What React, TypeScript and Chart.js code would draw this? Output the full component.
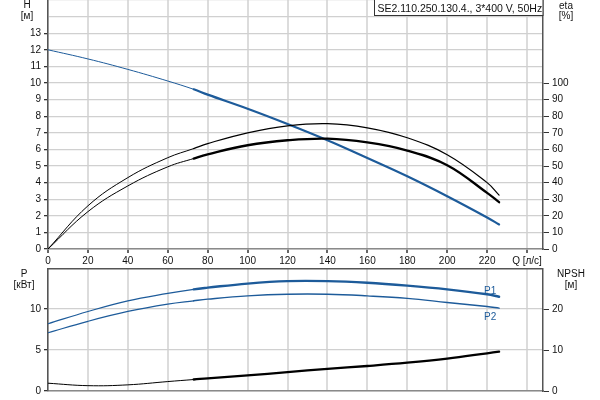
import React, { useEffect, useRef } from 'react';
import { Chart, registerables } from 'chart.js';

Chart.register(...registerables);

// ---- data ----
const Q = [0, 20, 40, 60, 73, 80, 100, 120, 140, 160, 180, 200, 220, 226];
const H = [12.0, 11.45, 10.82, 10.12, 9.62, 9.3, 8.45, 7.53, 6.55, 5.48, 4.38, 3.18, 1.9, 1.48];
const ETA_UPPER = [0, 26, 43, 55, 60.5, 63.5, 70, 74.2, 75.5, 73, 67, 56.8, 40, 32.5];
const ETA_LOWER = [0, 22.5, 38, 49.5, 54.5, 57, 62.5, 65.5, 66.5, 64.2, 59.3, 50.5, 33.8, 28.2];
const P1 = [8.2, 9.7, 11.0, 11.9, 12.4, 12.6, 13.1, 13.4, 13.4, 13.2, 12.85, 12.4, 11.8, 11.5];
const P2 = [7.1, 8.5, 9.7, 10.6, 11.0, 11.2, 11.6, 11.8, 11.8, 11.6, 11.3, 10.8, 10.3, 10.1];
const NPSH = [1.9, 1.3, 1.5, 2.3, 2.8, 3.1, 3.8, 4.6, 5.4, 6.1, 6.9, 7.9, 9.2, 9.6];

const Q_TICKS = [0, 20, 40, 60, 80, 100, 120, 140, 160, 180, 200, 220, 240];
const H_TICKS = [0, 1, 2, 3, 4, 5, 6, 7, 8, 9, 10, 11, 12, 13, 14, 15];
const H_LABEL_MAX = 13;
const ETA_TICKS = [0, 10, 20, 30, 40, 50, 60, 70, 80, 90, 100];
const P_TICKS = [0, 5, 10];
const NPSH_TICKS = [0, 10, 20];

const Q_MAX = 248;
const H_MAX = 15;
const ETA_MAX = 150;
const P_MAX = 15;
const NPSH_MAX = 30;
const DUTY_START = 73;
const Q_TITLE = 'Q [л/с]';
const TITLE = 'SE2.110.250.130.4., 3*400 V, 50Hz';

const FONT = "'Liberation Sans', Arial, sans-serif";
const BLUE = '#1d5b9a';
const TEXT = '#111';
const GRID_V = '#dcdcdc';
const GRID_H = '#d0d0d0';
const AXIS = '#555';

const pts = (ys: number[]) => Q.map((q, i) => ({ x: q, y: ys[i] }));
const seg = (thin: number, thick: number) => ({
  borderWidth: (ctx: any) => (ctx.p0.parsed.x >= DUTY_START ? thick : thin),
});

const fix = (w?: number, h?: number) => (scale: any) => {
  if (w !== undefined) scale.width = w;
  if (h !== undefined) scale.height = h;
  scale.paddingLeft = 0;
  scale.paddingRight = 0;
  scale.paddingTop = 0;
  scale.paddingBottom = 0;
};
const setTicks = (vals: number[]) => (scale: any) => {
  scale.ticks = vals.map((v) => ({ value: v }));
};

const LEFT_W = 48;
const RIGHT_W = 57;

function line(data: number[], color: string, axis: string, thin: number, thick: number) {
  return {
    data: pts(data),
    borderColor: color,
    backgroundColor: color,
    yAxisID: axis,
    pointRadius: 0,
    borderWidth: thin,
    tension: 0.4,
    segment: seg(thin, thick),
    borderCapStyle: 'round' as const,
  };
}

const topDeco = {
  id: 'topDeco',
  afterDraw(chart: any) {
    const c = chart.ctx;
    const { right } = chart.chartArea;
    c.save();
    c.font = `10px ${FONT}`;
    c.fillStyle = TEXT;
    c.textAlign = 'center';
    c.textBaseline = 'alphabetic';
    c.fillText('H', 27, 8);
    c.fillText('[м]', 27, 19);
    c.fillText('eta', 566, 8.5);
    c.fillText('[%]', 566, 19);
    c.fillStyle = '#fff';
    c.fillRect(374.5, -0.5, right - 374.5, 16);
    c.strokeStyle = '#333';
    c.lineWidth = 1;
    c.strokeRect(374.5, -0.5, right - 374.5, 16);
    c.fillStyle = TEXT;
    c.textAlign = 'left';
    c.font = `10.5px ${FONT}`;
    c.fillText(TITLE, 377.5, 12);
    c.restore();
  },
};

const bottomDeco = {
  id: 'bottomDeco',
  afterDraw(chart: any) {
    const c = chart.ctx;
    const { left, right, top } = chart.chartArea;
    const xs = chart.scales.x;
    const ys = chart.scales.p;
    c.save();
    c.strokeStyle = AXIS;
    c.lineWidth = 1.5;
    c.beginPath();
    c.moveTo(left, top + 0.75);
    c.lineTo(right, top + 0.75);
    c.stroke();
    c.font = `10px ${FONT}`;
    c.fillStyle = TEXT;
    c.textAlign = 'center';
    c.textBaseline = 'alphabetic';
    c.fillText('P', 24, 9);
    c.fillText('[кВт]', 24, 20);
    c.fillText('NPSH', 571, 9);
    c.fillText('[м]', 571, 20);
    const xe = xs.getPixelForValue(Q[Q.length - 1]) - 9;
    c.fillStyle = BLUE;
    c.fillText('P1', xe, ys.getPixelForValue(P1[P1.length - 1]) - 3);
    c.fillText('P2', xe, ys.getPixelForValue(P2[P2.length - 1]) + 11.5);
    c.restore();
  },
};

export default function App() {
  const topRef = useRef<HTMLCanvasElement | null>(null);
  const botRef = useRef<HTMLCanvasElement | null>(null);

  useEffect(() => {
    Chart.defaults.font.family = FONT;
    Chart.defaults.font.size = 10;
    Chart.defaults.color = TEXT;

    const tickFont = { family: FONT, size: 10 };

    const top = new Chart(topRef.current as HTMLCanvasElement, {
      type: 'line',
      data: {
        datasets: [
          line(ETA_UPPER, '#000', 'eta', 1, 1.2),
          line(ETA_LOWER, '#000', 'eta', 1, 2.3),
          line(H, BLUE, 'y', 1, 2.2),
        ] as any,
      },
      options: {
        animation: false,
        responsive: false,
        maintainAspectRatio: false,
        layout: { padding: 0 },
        plugins: { legend: { display: false }, tooltip: { enabled: false } },
        scales: {
          x: {
            type: 'linear',
            min: 0,
            max: Q_MAX,
            afterBuildTicks: setTicks(Q_TICKS),
            afterFit: fix(undefined, 19),
            grid: { color: GRID_V, lineWidth: 2, tickLength: 4, tickColor: '#666' },
            border: { display: true, color: '#8a8a8a', width: 1.5 },
            ticks: {
              autoSkip: false,
              maxRotation: 0,
              padding: 2,
              font: tickFont,
              color: TEXT,
              callback: (v: any) => (v === 240 ? Q_TITLE : String(v)),
            },
          },
          y: {
            type: 'linear',
            position: 'left',
            min: 0,
            max: H_MAX,
            afterBuildTicks: setTicks(H_TICKS),
            afterFit: fix(LEFT_W),
            grid: {
              color: GRID_H,
              lineWidth: 1.3,
              tickLength: 4,
              tickColor: (ctx: any) => (ctx.tick && ctx.tick.value > H_LABEL_MAX ? 'rgba(0,0,0,0)' : '#333'),
            },
            border: { display: true, color: AXIS, width: 1.5 },
            ticks: {
              padding: 3,
              font: tickFont,
              color: TEXT,
              callback: (v: any) => (v <= H_LABEL_MAX ? String(v) : ''),
            },
          },
          eta: {
            type: 'linear',
            position: 'right',
            min: 0,
            max: ETA_MAX,
            afterBuildTicks: setTicks(ETA_TICKS),
            afterFit: fix(RIGHT_W),
            grid: { drawOnChartArea: false, tickLength: 6, tickColor: '#333' },
            border: { display: true, color: AXIS, width: 1.5 },
            ticks: { padding: 3, font: tickFont, color: TEXT },
          },
        },
      } as any,
      plugins: [topDeco],
    });

    const bottom = new Chart(botRef.current as HTMLCanvasElement, {
      type: 'line',
      data: {
        datasets: [
          line(NPSH, '#000', 'npsh', 1, 2.3),
          line(P2, BLUE, 'p', 1.2, 1.4),
          line(P1, BLUE, 'p', 1.2, 2.4),
        ] as any,
      },
      options: {
        animation: false,
        responsive: false,
        maintainAspectRatio: false,
        layout: { padding: 0 },
        plugins: { legend: { display: false }, tooltip: { enabled: false } },
        scales: {
          x: {
            type: 'linear',
            min: 0,
            max: Q_MAX,
            afterBuildTicks: setTicks(Q_TICKS),
            afterFit: fix(undefined, 9),
            grid: { color: GRID_V, lineWidth: 2, drawTicks: false },
            border: { display: true, color: '#8a8a8a', width: 1.5 },
            ticks: { display: false },
          },
          p: {
            type: 'linear',
            position: 'left',
            min: 0,
            max: P_MAX,
            afterBuildTicks: setTicks(P_TICKS),
            afterFit: fix(LEFT_W),
            grid: { color: GRID_H, lineWidth: 1.3, tickLength: 4, tickColor: '#333' },
            border: { display: true, color: AXIS, width: 1.5 },
            ticks: { padding: 3, font: tickFont, color: TEXT },
          },
          npsh: {
            type: 'linear',
            position: 'right',
            min: 0,
            max: NPSH_MAX,
            afterBuildTicks: setTicks(NPSH_TICKS),
            afterFit: fix(RIGHT_W),
            grid: { drawOnChartArea: false, tickLength: 6, tickColor: '#333' },
            border: { display: true, color: AXIS, width: 1.5 },
            ticks: { padding: 3, font: tickFont, color: TEXT },
          },
        },
      } as any,
      plugins: [bottomDeco],
    });

    return () => {
      top.destroy();
      bottom.destroy();
    };
  }, []);

  return (
    <div style={{ position: 'fixed', left: 0, top: 0, width: 600, height: 400, background: '#fff' }}>
      <canvas
        ref={topRef}
        width={600}
        height={268}
        style={{ position: 'absolute', left: 0, top: 0, width: 600, height: 268 }}
      />
      <canvas
        ref={botRef}
        width={600}
        height={132}
        style={{ position: 'absolute', left: 0, top: 268, width: 600, height: 132 }}
      />
    </div>
  );
}
